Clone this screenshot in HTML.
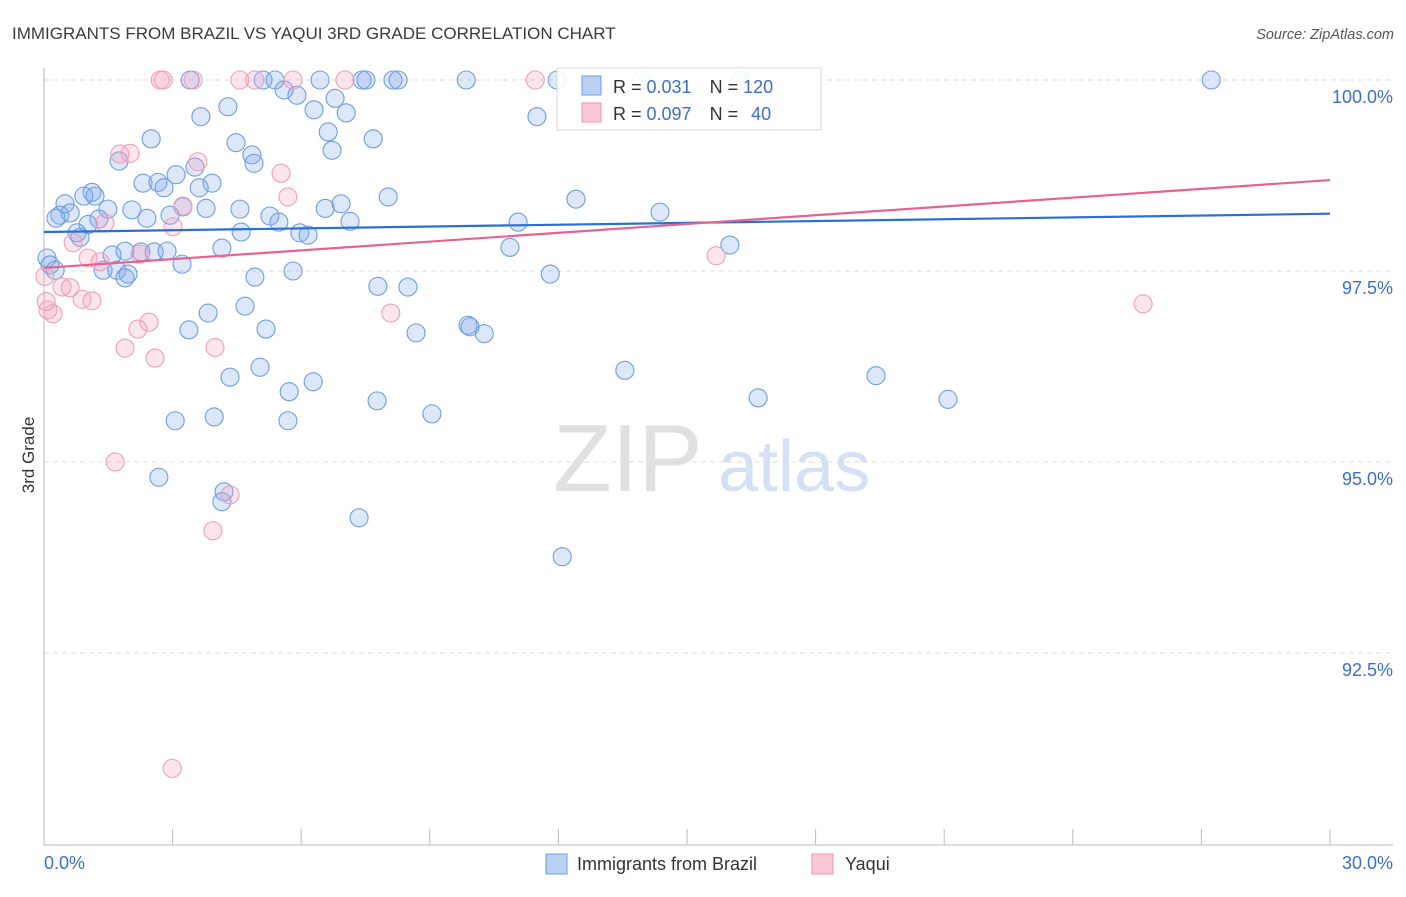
<!DOCTYPE html>
<html><head><meta charset="utf-8"><style>
body{margin:0;background:#fff;font-family:"Liberation Sans",sans-serif;}
svg text{font-family:"Liberation Sans",sans-serif;}
</style></head><body>
<svg id="chart" width="1406" height="892" xmlns="http://www.w3.org/2000/svg">
<text x="12" y="39" font-size="17" fill="#3a3a3a">IMMIGRANTS FROM BRAZIL VS YAQUI 3RD GRADE CORRELATION CHART</text>
<text x="1394" y="39" font-size="14.5" fill="#555" font-style="italic" text-anchor="end">Source: ZipAtlas.com</text>
<g>
<text x="553" y="491" font-size="96" fill="#e0e0e0" font-family="Liberation Serif, serif">ZIP</text>
<text x="718" y="491" font-size="72" fill="#d3e0f5">atlas</text>
</g>
<g id="grid"></g>
<g id="axes"></g>
<g id="pts"></g>
<g id="trend"></g>
<g>
<rect x="557" y="68" width="264" height="62" fill="#fff" fill-opacity="0.9" stroke="#d8d8d8"/>
<rect x="582" y="76" width="19" height="19" fill="#b9d0f3" stroke="#6f9ce0"/>
<rect x="582" y="103" width="19" height="19" fill="#f9c6d5" stroke="#ec97b2"/>
<text x="613" y="93" font-size="18" fill="#333">R = <tspan fill="#3a6fd0">0.031</tspan><tspan dx="18">N = </tspan><tspan fill="#3a6fd0">120</tspan></text>
<text x="613" y="120" font-size="18" fill="#333">R = <tspan fill="#3a6fd0">0.097</tspan><tspan dx="18">N = </tspan><tspan fill="#3a6fd0" dx="8">40</tspan></text>
</g>
<g>
<rect x="546" y="854" width="21" height="20" fill="#b9d0f3" stroke="#6f9ce0"/>
<text x="577" y="870" font-size="18" fill="#333">Immigrants from Brazil</text>
<rect x="812" y="854" width="21" height="20" fill="#f9c6d5" stroke="#ec97b2"/>
<text x="845" y="870" font-size="18" fill="#333">Yaqui</text>
</g>
<text transform="translate(34,455) rotate(-90)" font-size="17" fill="#333" text-anchor="middle">3rd Grade</text>
</svg>
<script>
const yTicks=[100,97.5,95,92.5];
const yTickLabels=["100.0%","97.5%","95.0%","92.5%"];
const xTicks=[0,3,6,9,12,15,18,21,24,27,30];
const xEndLabels=["0.0%","30.0%"];
const brazilX=[3.41,5.11,5.39,6.44,7.42,7.51,8.14,8.26,9.85,11.97,13.95,16.24,27.23,5.60,5.90,6.79,4.29,6.30,7.05,3.66,11.50,6.63,2.50,4.48,7.68,6.72,4.85,4.90,1.75,3.52,3.08,2.31,2.66,2.80,3.92,3.62,1.12,1.19,0.93,0.49,8.03,12.41,3.78,2.05,4.57,6.56,6.93,14.37,1.49,3.24,2.94,2.40,5.27,5.48,7.14,11.06,0.37,0.61,0.28,1.28,1.03,0.77,0.84,4.60,5.97,6.16,4.15,10.87,16.00,1.89,1.59,2.26,2.57,2.87,3.22,0.07,0.14,0.26,1.38,1.70,1.96,1.89,4.92,5.81,11.81,7.79,8.49,4.69,3.83,3.38,5.18,8.68,9.89,9.94,10.27,5.04,4.34,6.28,5.72,13.55,19.41,7.77,16.66,21.09,9.05,3.06,3.97,5.69,2.68,4.20,4.15,7.35,12.09];
const brazilY=[100,100,100,100,100,100,100,100,100,100,100,100,100,99.87,99.80,99.76,99.65,99.61,99.57,99.52,99.52,99.32,99.23,99.18,99.23,99.08,99.02,98.91,98.94,98.86,98.76,98.65,98.66,98.59,98.65,98.59,98.53,98.48,98.48,98.38,98.47,98.44,98.32,98.30,98.31,98.32,98.38,98.27,98.31,98.34,98.23,98.19,98.22,98.14,98.15,98.14,98.23,98.26,98.19,98.18,98.11,98.00,97.94,98.01,98.00,97.97,97.80,97.81,97.84,97.76,97.71,97.75,97.75,97.76,97.59,97.67,97.58,97.51,97.51,97.51,97.46,97.41,97.42,97.50,97.46,97.30,97.29,97.04,96.95,96.73,96.74,96.69,96.79,96.77,96.68,96.24,96.11,96.05,95.92,96.20,96.13,95.80,95.84,95.82,95.63,95.54,95.59,95.54,94.80,94.61,94.48,94.27,93.76];
const yaquiX=[2.71,2.78,3.48,4.57,4.92,5.81,7.02,11.46,1.77,2.01,3.59,5.53,5.69,3.24,3.01,1.42,0.68,2.24,1.03,1.31,0.02,0.42,0.61,0.89,1.12,0.09,0.21,8.09,25.64,2.45,2.19,1.89,2.59,3.99,15.68,1.66,4.34,3.94,2.99,0.05];
const yaquiY=[100,100,100,100,100,100,100,100,99.03,99.04,98.93,98.78,98.47,98.35,98.08,98.13,97.87,97.72,97.67,97.62,97.43,97.29,97.28,97.13,97.11,96.99,96.94,96.95,97.07,96.83,96.74,96.49,96.36,96.50,97.70,95.00,94.57,94.10,90.99,97.10];
const brazilTrend=[98.01,98.25];
const yaquiTrend=[97.54,98.69];

const X0=44,X1=1330,Y100=80,PXPER=76.4;
const sx=v=>X0+(X1-X0)*v/30;
const sy=v=>Y100+(100-v)*PXPER;
const NS="http://www.w3.org/2000/svg";
function mk(tag,attrs,parent){const e=document.createElementNS(NS,tag);for(const k in attrs)e.setAttribute(k,attrs[k]);parent.appendChild(e);return e;}
const grid=document.getElementById('grid'),axes=document.getElementById('axes'),pts=document.getElementById('pts'),trend=document.getElementById('trend');
yTicks.forEach((t,i)=>{
  const l=mk('line',{x1:X0,x2:1393,y1:sy(t),y2:sy(t),stroke:'#dcdcdc','stroke-dasharray':'5,4'},grid);
  
  
  const tx=mk('text',{x:1393,y:sy(t)+23,'font-size':18,fill:'#3a6fd0','text-anchor':'end'},axes);
  tx.textContent=yTickLabels[i];
  
  
});
const ya=mk('line',{x1:X0,x2:X0,y1:68,y2:845,stroke:'#bbb'},axes);


const xa=mk('line',{x1:X0,x2:1393,y1:845,y2:845,stroke:'#bbb'},axes);


xTicks.forEach(t=>{
  const l=mk('line',{x1:sx(t),x2:sx(t),y1:829,y2:845,stroke:'#bbb'},axes);
  
  
});
const xl0=mk('text',{x:44,y:869,'font-size':18,fill:'#3a6fd0'},axes);xl0.textContent=xEndLabels[0];


const xl1=mk('text',{x:1393,y:869,'font-size':18,fill:'#3a6fd0','text-anchor':'end'},axes);xl1.textContent=xEndLabels[1];


brazilX.forEach((x,i)=>{
  const c=mk('circle',{cx:sx(x),cy:sy(brazilY[i]),r:9,fill:'rgba(130,170,235,0.28)',stroke:'#6e9de3','stroke-width':1.1},pts);
  
  
});
yaquiX.forEach((x,i)=>{
  const c=mk('circle',{cx:sx(x),cy:sy(yaquiY[i]),r:9,fill:'rgba(245,160,190,0.28)',stroke:'#ef9fb9','stroke-width':1.1},pts);
  
  
});
const tb=mk('line',{x1:sx(0),x2:sx(30),y1:sy(brazilTrend[0]),y2:sy(brazilTrend[1]),stroke:'#2a6fd6','stroke-width':2.2},trend);


const tyq=mk('line',{x1:sx(0),x2:sx(30),y1:sy(yaquiTrend[0]),y2:sy(yaquiTrend[1]),stroke:'#e5638e','stroke-width':2.2},trend);


</script>
</body></html>
